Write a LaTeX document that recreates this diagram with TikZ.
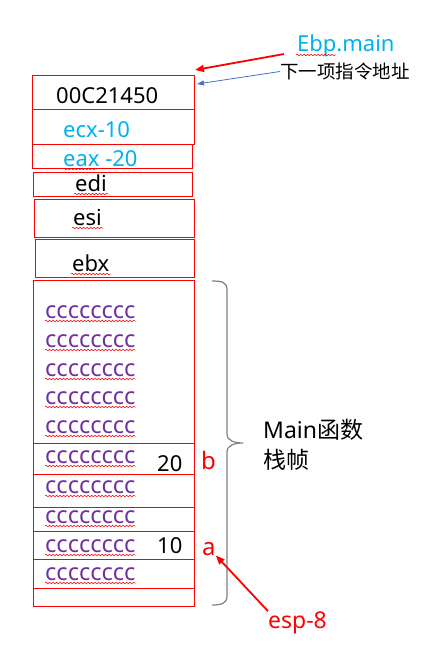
\documentclass[tikz,border=0pt]{standalone}
\usepackage{fontspec}
\setmainfont{Noto Sans}
\newfontfamily\cjk{Noto Sans CJK SC}
\usetikzlibrary{arrows.meta,decorations.pathmorphing,calc}
\definecolor{rd}{HTML}{FF0000}
\definecolor{sky}{HTML}{00B0F0}
\definecolor{purp}{HTML}{7030A0}
\definecolor{blu}{HTML}{4472C4}
\definecolor{gry}{HTML}{7F7F7F}
\begin{document}
\begin{tikzpicture}[x=1pt,y=-1pt,
  box/.style={draw=rd,line width=1pt,inner sep=0,anchor=north west},
  txt/.style={inner sep=0,anchor=base west,font=\fontsize{22}{26}\selectfont},
  ctxt/.style={txt,text=purp,font=\fontsize{23.5}{27}\selectfont},
  squig/.style={draw=rd,line width=0.5pt,decorate,decoration={snake,segment length=3.5pt,amplitude=0.8pt}},
  redarrow/.style={draw=rd,line width=1.8pt,-{Triangle[length=9pt,width=7pt]}},
  bluearrow/.style={draw=blu,line width=0.8pt,-{Triangle[length=7pt,width=5pt]}},
  bracestyle/.style={draw=gry,line width=1.2pt}]
\useasboundingbox (0,0) rectangle (427,650);
% upper boxes
\node[box,minimum width=162,minimum height=34] (b1) at (32,75) {};
\node[box,minimum width=162,minimum height=35] (b2) at (32,109) {};
\node[box,minimum width=160,minimum height=24] (b3) at (32,144) {};
\node[box,minimum width=159,minimum height=24] (b4) at (33,172) {};
\node[box,minimum width=160,minimum height=38] (b5) at (34,199) {};
\node[box,minimum width=159,minimum height=38] (b6) at (35,239) {};
% stack cells
\node[box,minimum width=161,minimum height=163] (c0) at (33,280) {};
\node[box,minimum width=161,minimum height=31] (c1) at (33,443) {};
\node[box,minimum width=161,minimum height=33] (c2) at (33,474) {};
\node[box,minimum width=161,minimum height=24] (c3) at (33,507) {};
\node[box,minimum width=161,minimum height=28] (c4) at (33,531) {};
\node[box,minimum width=161,minimum height=29] (c5) at (33,559) {};
\node[box,minimum width=161,minimum height=18] (c6) at (33,588) {};
% box texts
\node[txt] (t1) at (56,103) {00C21450};
\node[txt,text=sky] (t2) at (63,137) {ecx-10};
\node[txt,text=sky] (t3) at (63,166) {eax -20};
\node[txt] (t4) at (75,191) {edi};
\node[txt] (t5) at (73,225) {esi};
\node[txt] (t6) at (72,271) {ebx};
\draw[squig] ($(t3.base west)+(0,3)$) -- ++(34,0);
\foreach \n in {t4,t5,t6}{
  \draw[squig] ($(\n.base west)+(-1,3)$) -- ($(\n.base east)+(1,3)$);
}
% cccccccc rows
\foreach \i/\y in {1/318,2/347,3/376,4/404,5/433,6/463,7/493,8/523,9/552,10/580}{
  \node[ctxt] (r\i) at (45,\y) {cccccccc};
  \draw[squig] ($(r\i.base west)+(0,3)$) -- ($(r\i.base east)+(0,3)$);
}
\node[txt] (n20) at (157,471) {20};
\node[txt] (n10) at (157,553) {10};
\node[txt,text=rd,font=\fontsize{24}{28}\selectfont] (lb) at (201,469) {b};
\node[txt,text=rd,font=\fontsize{24}{28}\selectfont] (la) at (202,555) {a};
% top labels
\node[txt,text=sky] (ebp) at (297,52) {Ebp.main};
\draw[squig] ($(ebp.base west)+(-1,3)$) -- ++(40,0);
\node[inner sep=0,anchor=west,font=\cjk\fontsize{18.5}{22}\selectfont] (xia) at (280,71.5) {下一项指令地址};
\coordinate (ebptip) at (195,70);
\coordinate (bluetip) at ($(b1.north east)+(2,9)$);
\draw[redarrow] ($(ebp.base west)+(-13,2)$) -- (ebptip);
\draw[bluearrow] (xia.west) -- (bluetip);
% brace
\draw[bracestyle] (212,281) .. controls (222,281) and (227,282) .. (227,290) -- (227,434)
  .. controls (227,441) and (235,443) .. (243,443)
  .. controls (235,443) and (227,445) .. (227,452) -- (227,596)
  .. controls (227,603) and (222,605) .. (212,605);
\node[inner sep=0,anchor=west,font=\fontsize{23}{27}\selectfont] (mainl) at (263,430) {Main{\cjk 函数}};
\node[inner sep=0,anchor=west,font=\cjk\fontsize{23}{27}\selectfont] (zhen) at (263,460) {栈帧};
% esp
\node[txt,text=rd,font=\fontsize{23}{27}\selectfont] (esp) at (268,628) {esp-8};
\draw[redarrow] (esp.north west) -- (la.south east);
\end{tikzpicture}
\end{document}
